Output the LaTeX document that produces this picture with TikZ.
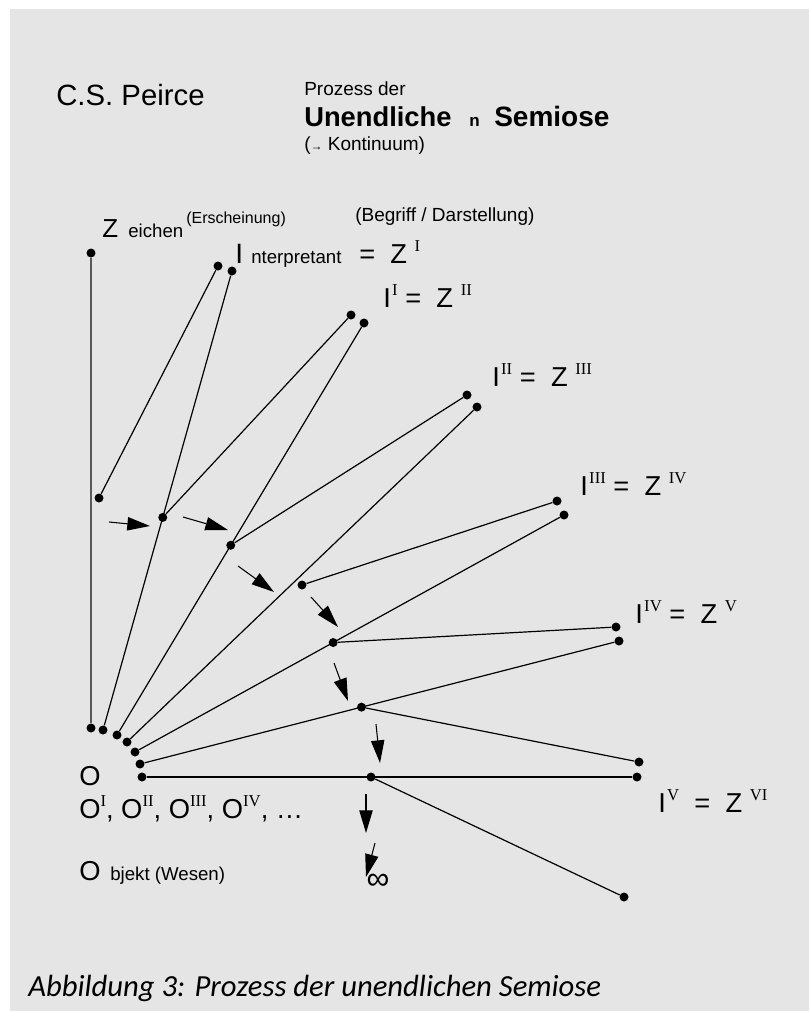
\documentclass[tikz,border=0pt]{standalone}
\usepackage{fontspec}
\setmainfont{Liberation Sans}
\newfontfamily\romfont{Liberation Serif}
\newfontfamily\capfont{Carlito}
\usepackage{tikz}
\usetikzlibrary{arrows.meta, calc}
\definecolor{bgGray}{RGB}{229,229,229}
\newcommand{\rmsup}[1]{\raisebox{8.5pt}{\romfont\fontsize{12.5}{12.5}\selectfont #1}}

\begin{document}
\begin{tikzpicture}[x=0.75pt, y=-0.75pt,
    dot/.style={circle, fill=black, inner sep=0pt, minimum size=6.75pt},
    link/.style={line width=0.9pt},
    flow/.style={line width=0.8pt, -{Triangle[length=17pt, width=10pt]}},
    lbl/.style={inner sep=0pt, anchor=base west, font=\fontsize{20.5}{20.5}\selectfont}]
    \useasboundingbox (0,0) rectangle (809,1011);
    \fill[bgGray] (10,9) rectangle (809,1011);

    % dots
    \node[dot] (z) at (91,253) {};
    \node[dot] (zm) at (99,498) {};
    \node[dot] (o0) at (91,728) {};
    \node[dot] (o1) at (103,730) {};
    \node[dot] (o2) at (117,735) {};
    \node[dot] (o3) at (127,742) {};
    \node[dot] (o4) at (135,752) {};
    \node[dot] (o5) at (140,764) {};
    \node[dot] (o6) at (142,777) {};
    \node[dot] (i0a) at (218,266) {};
    \node[dot] (i0b) at (232,271) {};
    \node[dot] (i1a) at (351,315) {};
    \node[dot] (i1b) at (364,323) {};
    \node[dot] (i2a) at (467,395) {};
    \node[dot] (i2b) at (477,407) {};
    \node[dot] (i3a) at (557,501) {};
    \node[dot] (i3b) at (564,515) {};
    \node[dot] (i4a) at (616,627) {};
    \node[dot] (i4b) at (619,641) {};
    \node[dot] (i5a) at (639,762) {};
    \node[dot] (i5b) at (637,777) {};
    \node[dot] (iend) at (624,897) {};
    \node[dot] (m1) at ($(o1)!(165,518)!(i0b)$) {};
    \node[dot] (m2) at ($(o2)!(232,546)!(i1b)$) {};
    \node[dot] (m3) at (302,585) {};
    \node[dot] (m4) at ($(o4)!(334,644)!(i3b)$) {};
    \node[dot] (m5) at ($(o5)!(362,709)!(i4b)$) {};
    \node[dot] (m6) at ($(o6)!(371,779)!(i5b)$) {};

    % connectors
    \draw[line width=1.1pt, black!65] (z) -- (o0);
    \draw[link] (zm) -- (i0a);
    \draw[link] (o1) -- (i0b);
    \draw[link] (m1) -- (i1a);
    \draw[link] (o2) -- (i1b);
    \draw[link] (m2) -- (i2a);
    \draw[link] (o3) -- (i2b);
    \draw[link] (m3) -- (i3a);
    \draw[link] (o4) -- (i3b);
    \draw[link] (m4) -- (i4a);
    \draw[link] (o5) -- (i4b);
    \draw[link] (m5) -- (i5a);
    \draw[link] (o6) -- (i5b);
    \draw[link] (m6) -- (iend);

    % arrows
    \coordinate (a1s) at (109,522); \coordinate (a1e) at (150,526);
    \coordinate (a2s) at (183,517); \coordinate (a2e) at (228,530);
    \coordinate (a3s) at (238,566); \coordinate (a3e) at (274,592);
    \coordinate (a4s) at (311,597); \coordinate (a4e) at (338,627);
    \coordinate (a5s) at (334,663); \coordinate (a5e) at (348,701);
    \coordinate (a6s) at (376,724); \coordinate (a6e) at (380,763);
    \coordinate (a7s) at (366,794); \coordinate (a7e) at (366,833);
    \coordinate (a8s) at (375,843); \coordinate (a8e) at (366,877);
    \foreach \k in {1,...,8} {\draw[flow] (a\k s) -- (a\k e);}

    % title
    \node[lbl, font=\fontsize{22}{22}\selectfont] (peirce) at (56,105) {C.S. Peirce};
    \node[lbl, font=\fontsize{14.25}{14.25}\selectfont] (proz) at (304,95) {Prozess der};
    \node[lbl, font=\bfseries\fontsize{20.5}{20.5}\selectfont] (unend) at (304,126) {Unendliche};
    \node[lbl, font=\bfseries\fontsize{12.75}{12.75}\selectfont] (unendn) at (469,126) {n};
    \node[lbl, font=\bfseries\fontsize{21}{21}\selectfont] (semi) at (494,126) {Semiose};
    \node[lbl, font=\fontsize{14.25}{14.25}\selectfont] (kont) at (304,150) {({\fontsize{9}{9}\selectfont →} Kontinuum)};

    % labels
    \node[lbl, font=\fontsize{19.5}{19.5}\selectfont] (zeichen) at (102,237) {Z};
    \node[lbl, font=\fontsize{14}{14}\selectfont] (eichen) at (128,237) {eichen};
    \node[lbl, font=\fontsize{12}{12}\selectfont] (ersch) at (186,223) {(Erscheinung)};
    \node[lbl, font=\fontsize{14.25}{14.25}\selectfont] (begr) at (355,221) {(Begriff / Darstellung)};
    \node[lbl, font=\fontsize{21}{21}\selectfont] (interp) at (235,263) {I};
    \node[lbl, font=\fontsize{14}{14}\selectfont] (nterp) at (251,263) {nterpretant};
    \node[lbl] (interpz) at (359,263) {=\ \ Z\ \rmsup{I}};
    \node[lbl] (l1) at (383,307) {I\kern1pt\rmsup{I}\ =\ \ Z\ \rmsup{II}};
    \node[lbl] (l2) at (492,386) {I\kern1pt\rmsup{II}\ =\ \ Z\ \rmsup{III}};
    \node[lbl] (l3) at (580,495) {I\kern1pt\rmsup{III}\ =\ \ Z\ \rmsup{IV}};
    \node[lbl] (l4) at (635,623) {I\kern1pt\rmsup{IV}\ =\ \ Z\ \rmsup{V}};
    \node[lbl] (l5) at (658,812) {I\kern1pt\rmsup{V}\ \ =\ \ Z\ \rmsup{VI}};
    \node[lbl] (obj) at (79,785) {O};
    \node[lbl] (objs) at (79,818) {O\rmsup{I}, O\rmsup{II}, O\rmsup{III}, O\rmsup{IV}, …};
    \node[lbl] (objekt) at (79,880) {O};
    \node[lbl, font=\fontsize{14}{14}\selectfont] (bjekt) at (110,880) {bjekt (Wesen)};
    \node[inner sep=0pt, font=\fontsize{24}{24}\selectfont] (inf) at (378,882) {∞};

    % caption
    \node[lbl, font=\capfont\itshape\fontsize{23}{23}\selectfont] (caption) at (28,996) {Abbildung 3: Prozess der unendlichen Semiose};
\end{tikzpicture}
\end{document}
